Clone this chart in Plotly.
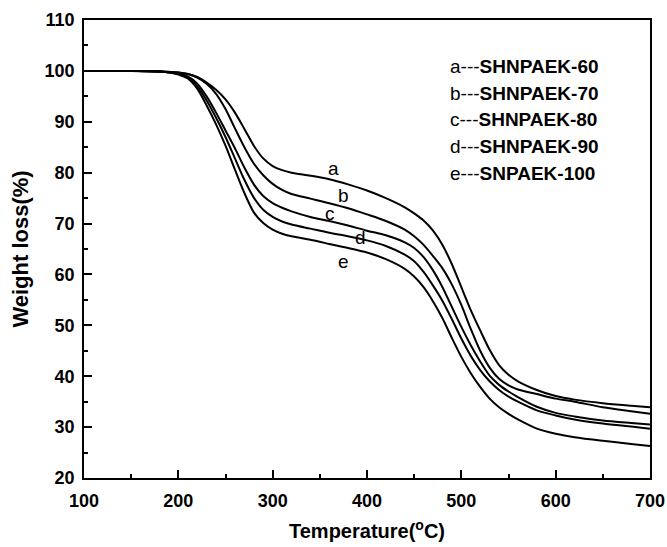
import plotly.graph_objects as go

# Temperature grid (°C)
temperature = [100, 150, 180, 200, 210, 220, 230, 240, 250, 260, 270, 280, 290, 300, 310, 320,
               340, 360, 380, 400, 420, 440, 450, 460, 470, 480, 490, 500, 510, 520, 530, 540,
               550, 560, 580, 600, 620, 650, 680, 700]

# Weight (%) for each sample
shnpaek_60 = [100, 100, 99.9, 99.7, 99.4, 98.8, 97.7, 96.3, 94.4, 91.8, 88.6, 85.3, 82.8, 81.3, 80.5, 80.0,
              79.4, 78.7, 77.7, 76.5, 75.0, 73.2, 72.0, 70.6, 68.6, 65.8, 62.0, 57.5, 53.0, 49.0, 45.2, 42.2,
              40.3, 39.0, 37.3, 36.1, 35.4, 34.7, 34.2, 33.9]
shnpaek_70 = [100, 100, 99.9, 99.7, 99.4, 98.7, 97.5, 95.5, 92.5, 88.7, 85.0, 81.8, 79.5, 77.8, 76.6, 75.8,
              74.9, 74.0, 73.0, 71.8, 70.5, 68.8, 67.5, 65.8, 63.6, 61.2, 58.0, 54.0, 49.3, 45.0, 41.7, 39.5,
              38.2, 37.4, 36.5, 35.6, 35.0, 33.9, 33.1, 32.6]
shnpaek_80 = [100, 100, 99.9, 99.5, 98.9, 97.5, 95.0, 91.8, 88.3, 84.8, 81.0, 77.7, 75.4, 74.0, 73.1, 72.4,
              71.3, 70.5, 69.6, 68.6, 67.7, 66.3, 65.2, 63.4, 60.8, 57.5, 53.6, 49.7, 46.1, 42.9, 40.1, 38.3,
              37.0, 35.9, 34.0, 32.8, 32.1, 31.3, 30.8, 30.5]
shnpaek_90 = [100, 100, 99.9, 99.4, 98.7, 97.0, 94.2, 90.8, 87.0, 82.8, 78.6, 75.1, 72.7, 71.3, 70.4, 69.8,
              69.0, 68.2, 67.5, 66.7, 65.6, 63.9, 62.6, 60.5, 57.8, 54.8, 51.2, 47.4, 44.0, 41.2, 39.0, 37.3,
              36.0, 35.0, 33.3, 32.3, 31.5, 30.7, 30.1, 29.7]
snpaek_100 = [100, 100, 99.9, 99.3, 98.5, 96.5, 93.2, 89.5, 85.3, 80.6, 76.0, 72.2, 70.1, 68.8, 68.0, 67.5,
              66.8, 66.0, 65.2, 64.3, 63.0, 61.1, 59.6, 57.5, 54.7, 51.4, 47.5, 43.8, 40.6, 37.9, 35.6, 33.9,
              32.6, 31.5, 29.7, 28.7, 28.0, 27.3, 26.7, 26.3]

series = [shnpaek_60, shnpaek_70, shnpaek_80, shnpaek_90, snpaek_100]

letters = ["a", "b", "c", "d", "e"]
names = ["SHNPAEK-60", "SHNPAEK-70", "SHNPAEK-80", "SHNPAEK-90", "SNPAEK-100"]

# curve letter label positions (data coords)
label_x = [364, 375, 361, 393, 375]
label_y = [80.9, 75.5, 72.0, 67.2, 62.5]

# legend text rows (data coords)
legend_x = 486
legend_y = [100.8, 95.6, 90.4, 85.1, 79.9]

FONT = "Liberation Sans, Arial, sans-serif"

fig = go.Figure()
for ys, nm in zip(series, names):
    fig.add_trace(go.Scatter(x=temperature, y=ys, mode="lines", name=nm,
                             line=dict(color="black", width=2, shape="spline", smoothing=0.8),
                             showlegend=False))

annotations = []
for l, lx, ly in zip(letters, label_x, label_y):
    annotations.append(dict(x=lx, y=ly, xref="x", yref="y", text=l, showarrow=False,
                            font=dict(family=FONT, size=19, color="black")))
for l, nm, ly in zip(letters, names, legend_y):
    annotations.append(dict(x=legend_x, y=ly, xref="x", yref="y", text=f"{l}---<b>{nm}</b>",
                            showarrow=False, xanchor="left", yanchor="middle",
                            font=dict(family=FONT, size=19, color="black")))

fig.update_layout(
    width=667, height=547,
    margin=dict(l=84, r=17, t=20, b=69),
    paper_bgcolor="white", plot_bgcolor="white",
    font=dict(family=FONT, color="black"),
    annotations=annotations,
    xaxis=dict(range=[100, 700], dtick=100, tick0=100, ticks="inside", ticklen=8, tickwidth=1.5,
               tickcolor="black", showline=True, linecolor="black", linewidth=1.5, mirror=True,
               showgrid=False, zeroline=False, ticklabelstandoff=6, automargin=False,
               tickfont=dict(family=FONT, size=18, color="black", weight="bold"),
               minor=dict(ticks="inside", ticklen=4.5, dtick=50, tickwidth=1.5, tickcolor="black", showgrid=False),
               title=dict(text="<b>Temperature(<sup>o</sup>C)</b>", font=dict(family=FONT, size=20, color="black"),
                          standoff=14)),
    yaxis=dict(range=[20, 110], dtick=10, tick0=20, ticks="inside", ticklen=8, tickwidth=1.5,
               tickcolor="black", showline=True, linecolor="black", linewidth=1.5, mirror=True,
               showgrid=False, zeroline=False, ticklabelstandoff=4, automargin=False,
               tickfont=dict(family=FONT, size=18, color="black", weight="bold"),
               minor=dict(ticks="inside", ticklen=4.5, dtick=5, tickwidth=1.5, tickcolor="black", showgrid=False),
               title=dict(text="<b>Weight loss(%)</b>", font=dict(family=FONT, size=22, color="black"),
                          standoff=10)),
)

fig.write_html("out.html")
